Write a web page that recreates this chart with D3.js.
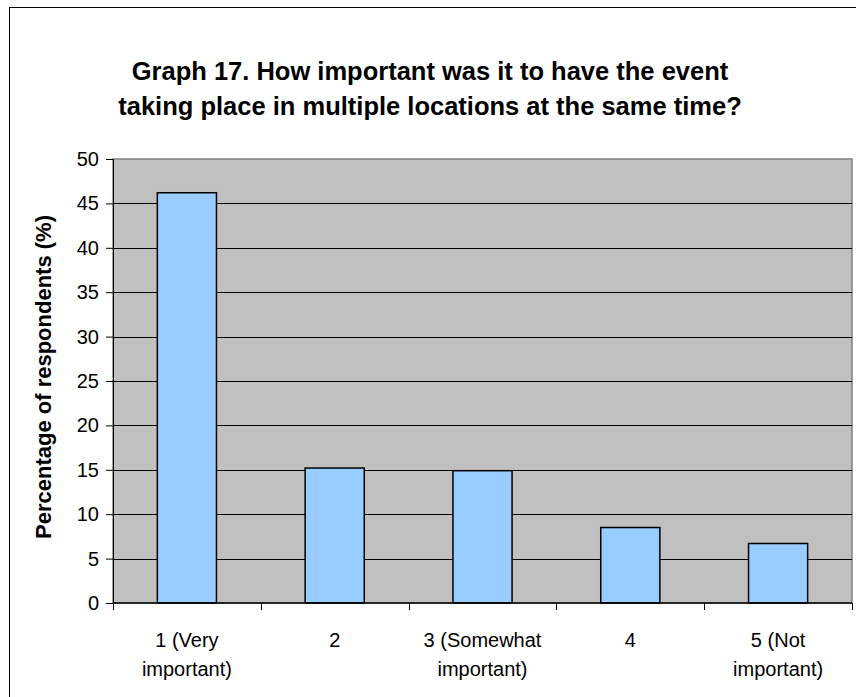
<!DOCTYPE html>
<html><head><meta charset="utf-8">
<script src="https://cdn.jsdelivr.net/npm/d3@7"></script>
<style>body{margin:0;background:#fff}svg{display:block}</style>
</head><body>
<script>
const categories = [["1 (Very","important)"],["2"],["3 (Somewhat","important)"],["4"],["5 (Not","important)"]];
const values = [46.2, 15.2, 14.9, 8.5, 6.7];
const yTicks = [0,5,10,15,20,25,30,35,40,45,50];
const titleLines = ["Graph 17. How important was it to have the event","taking place in multiple locations at the same time?"];
const yLabel = "Percentage of respondents (%)";

const W = 856, H = 697;
const FONT = "Liberation Sans, Arial, sans-serif";
const svg = d3.select("body").append("svg").attr("width", W).attr("height", H);
svg.append("rect").attr("x",9.5).attr("y",7.5).attr("width",W).attr("height",H).attr("fill","#fff").attr("stroke","#000").attr("stroke-width",1);

const L = 113, R = 852, T = 159, B = 603;
const x = d3.scaleBand().domain(d3.range(values.length)).range([L,R]).paddingInner(0.6).paddingOuter(0.3);
const xb = d3.scaleLinear().domain([0, values.length]).range([L,R]);
const y = d3.scaleLinear().domain([0,50]).range([B,T]);

svg.append("rect").attr("x",L).attr("y",T).attr("width",R-L).attr("height",B-T).attr("fill","#C0C0C0").attr("stroke","#808080").attr("stroke-width",1.5);

svg.append("g").selectAll("line").data(yTicks.filter(d=>d>0&&d<50)).join("line")
  .attr("x1",L).attr("x2",R).attr("y1",d=>Math.round(y(d))+0.5).attr("y2",d=>Math.round(y(d))+0.5)
  .attr("stroke","#000").attr("stroke-width",1);

svg.append("g").selectAll("rect").data(values).join("rect")
  .attr("x",(d,i)=>x(i)).attr("width",x.bandwidth())
  .attr("y",d=>y(d)).attr("height",d=>B-y(d))
  .attr("fill","#99CCFF").attr("stroke","#000").attr("stroke-width",1.5);

const yAxis = d3.axisLeft(y).tickValues(yTicks).tickSize(7).tickPadding(7);
const gy = svg.append("g").attr("transform",`translate(${L},0)`).call(yAxis);
gy.select(".domain").attr("stroke","#000");
gy.selectAll("text").attr("font-family",FONT).attr("font-size",20).attr("fill","#000");

const gx = svg.append("g").attr("transform",`translate(0,${B})`);
gx.append("line").attr("x1",L).attr("x2",R).attr("y1",0).attr("y2",0).attr("stroke","#000").attr("stroke-width",1.5);
gx.selectAll(".tk").data(d3.range(values.length+1)).join("line").attr("class","tk")
  .attr("x1",d=>Math.round(xb(d))+0.5).attr("x2",d=>Math.round(xb(d))+0.5).attr("y1",0).attr("y2",7).attr("stroke","#000");
gx.selectAll(".lbl").data(categories).join("text").attr("class","lbl")
  .attr("x",(d,i)=>x(i)+x.bandwidth()/2).attr("y",44)
  .attr("text-anchor","middle").attr("font-family",FONT).attr("font-size",20).attr("fill","#000")
  .each(function(d){ const t=d3.select(this); d.forEach((s,k)=>t.append("tspan").attr("x",t.attr("x")).attr("dy",k?29:0).text(s)); });

svg.append("text").attr("transform",`translate(51,${(T+B)/2 - 4}) rotate(-90)`).attr("text-anchor","middle")
  .attr("font-family",FONT).attr("font-weight","bold").attr("font-size",22).text(yLabel);

svg.append("g").selectAll("text").data(titleLines).join("text")
  .attr("x",430).attr("y",(d,i)=>80+i*35).attr("text-anchor","middle")
  .attr("font-family",FONT).attr("font-weight","bold").attr("font-size",25.5).text(d=>d);
</script>
</body></html>
